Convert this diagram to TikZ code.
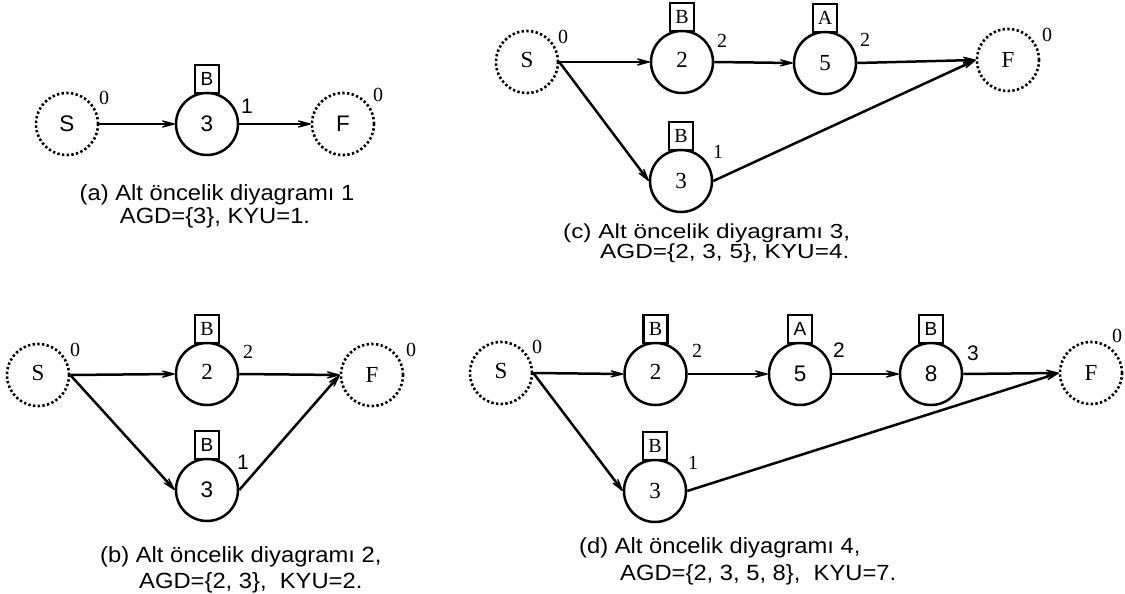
\documentclass[tikz,border=0pt]{standalone}
\usepackage{fontspec}
\setmainfont{Liberation Serif}
\setsansfont{Liberation Sans}
\newfontfamily\capfont[FakeStretch=1.08]{Liberation Sans}
\newfontfamily\capfontc[FakeStretch=1.2]{Liberation Sans}
\usetikzlibrary{arrows.meta}
\tikzset{
  cbase/.style={circle, draw, line width=2.5pt, minimum size=62pt, inner sep=0pt},
  snode/.style={cbase, font=\sffamily\fontsize{22.5}{24}\selectfont},
  rnode/.style={cbase, font=\rmfamily\fontsize{23}{24}\selectfont},
  dotc/.style={line width=2.6pt, dash pattern=on 2.4pt off 2.3pt},
  bxbase/.style={draw, line width=2.2pt, minimum width=24pt, minimum height=28pt, inner sep=0pt, outer sep=0pt, anchor=south},
  sbox/.style={bxbase, font=\sffamily\fontsize{19}{20}\selectfont},
  rbox/.style={bxbase, font=\rmfamily\fontsize{20}{20}\selectfont},
  slab/.style={inner sep=0pt, font=\sffamily\fontsize{21}{22}\selectfont},
  rlab/.style={inner sep=0pt, font=\rmfamily\fontsize{20}{20}\selectfont},
  arr/.style={line width=2.5pt, -{Stealth[length=21pt,width=11pt,inset=12pt,line width=1.3pt,round]}},
  capa/.style={inner sep=0pt, font=\capfont\fontsize{22}{24}\selectfont},
  capc/.style={inner sep=0pt, font=\capfontc\fontsize{20.3}{22}\selectfont},
}
\newcommand{\up}[1]{\raisebox{5pt}{#1}}
\begin{document}
\begin{tikzpicture}[x=1pt,y=-1pt]
\useasboundingbox (0,0) rectangle (1125,594);
% ---------- (a) ----------
\node[snode, dotc] (aS) at (67,124) {S};
\node[snode] (a3) at (207,124) {3};
\node[snode, dotc] (aF) at (343,124) {F};
\node[sbox] (a3b) at ([yshift=31pt]a3.center) {B};
\node[rlab] (aS0) at (104,98) {0};
\node[slab] (a31) at (247,106) {1};
\node[rlab] (aF0) at (378,95) {0};
\draw[arr] (aS.east) -- (a3.west);
\draw[arr] (a3.east) -- (aF.west);
\node[capa, anchor=base] (capa1) at (217,200) {(a) Alt öncelik diyagramı 1};
\node[capa, anchor=base] (capa2) at (215,223) {AGD=\{3\}, KYU=1.};
% ---------- (b) ----------
\node[rnode, dotc] (bS) at (38,375) {\up{S}};
\node[rnode] (b2) at (207,374) {\up{2}};
\node[snode] (b3) at (207,490) {3};
\node[rnode, dotc] (bF) at (372,375) {F};
\node[rbox] (b2b) at ([yshift=31pt]b2.center) {B};
\node[sbox] (b3b) at ([yshift=31pt]b3.center) {B};
\node[rlab] (bS0) at (75,350) {0};
\node[rlab] (b22) at (248,352) {2};
\node[slab] (b31) at (243,462) {1};
\node[rlab] (bF0) at (411,350) {0};
\draw[arr] (bS.east) -- (b2.west);
\draw[arr] (bS.east) -- (b3.west);
\draw[arr] (b2.east) -- (bF.west);
\draw[arr] (b3.east) -- (bF.west);
\node[capa, anchor=base west] (capb1) at (100,562) {(b) Alt öncelik diyagramı 2,};
\node[capa, anchor=base west] (capb2) at (139,588) {AGD=\{2, 3\},\ \ KYU=2.};
% ---------- (c) ----------
\node[rnode, dotc] (cS) at (527,62) {\up{S}};
\node[rnode] (c2) at (682,62) {\up{2}};
\node[rnode] (c5) at (825,63) {5};
\node[rnode, dotc] (cF) at (1008,60) {F};
\node[rnode] (c3) at (681,181) {3};
\node[rbox] (c2b) at ([yshift=31pt]c2.center) {B};
\node[rbox] (c5b) at ([yshift=31pt]c5.center) {A};
\node[rbox] (c3b) at ([yshift=31pt]c3.center) {B};
\node[rlab] (cS0) at (563,37) {0};
\node[rlab] (c22) at (722,41) {2};
\node[rlab] (c52) at (865,40) {2};
\node[rlab] (cF0) at (1047,35) {0};
\node[rlab] (c31) at (718,152) {1};
\draw[arr] (cS.east) -- (c2.west);
\draw[arr] (cS.east) -- (c3.west);
\draw[arr] (c2.east) -- (c5.west);
\draw[arr] (c5.east) -- (cF.west);
\draw[arr] (c3.east) -- (cF.west);
\node[capc, anchor=base west] (capc1) at (563,238) {(c) Alt öncelik diyagramı 3,};
\node[capc, anchor=base west] (capc2) at (600,258) {AGD=\{2, 3, 5\}, KYU=4.};
% ---------- (d) ----------
\node[rnode, dotc] (dS) at (501,373) {\up{S}};
\node[rnode] (d2) at (655.5,374) {\up{2}};
\node[snode] (d5) at (800,374) {5};
\node[snode] (d8) at (931,374) {8};
\node[rnode, dotc] (dF) at (1091,373) {F};
\node[rnode] (d3) at (655,491) {3};
\node[rbox] (d2b) at ([yshift=31pt]d2.center) {B};
\node[sbox] (d5b) at ([yshift=31pt]d5.center) {A};
\node[sbox] (d8b) at ([yshift=31pt]d8.center) {B};
\node[rbox] (d3b) at ([yshift=31pt]d3.center) {B};
\node[rlab] (dS0) at (537,347) {0};
\node[rlab] (d22) at (697,351) {2};
\node[slab] (d52) at (839,350) {2};
\node[slab] (d83) at (973,353) {3};
\node[rlab] (dF0) at (1117,336) {0};
\node[rlab] (d31) at (693,463) {1};
\draw[arr] (dS.east) -- (d2.west);
\draw[arr] (dS.east) -- (d3.west);
\draw[arr] (d2.east) -- (d5.west);
\draw[arr] (d5.east) -- (d8.west);
\draw[arr] (d8.east) -- (dF.west);
\draw[arr] (d3.east) -- (dF.west);
\node[capa, anchor=base west] (capd1) at (579,553) {(d) Alt öncelik diyagramı 4,};
\node[capa, anchor=base west] (capd2) at (620,580) {AGD=\{2, 3, 5, 8\},\ \ KYU=7.};
\end{tikzpicture}
\end{document}
